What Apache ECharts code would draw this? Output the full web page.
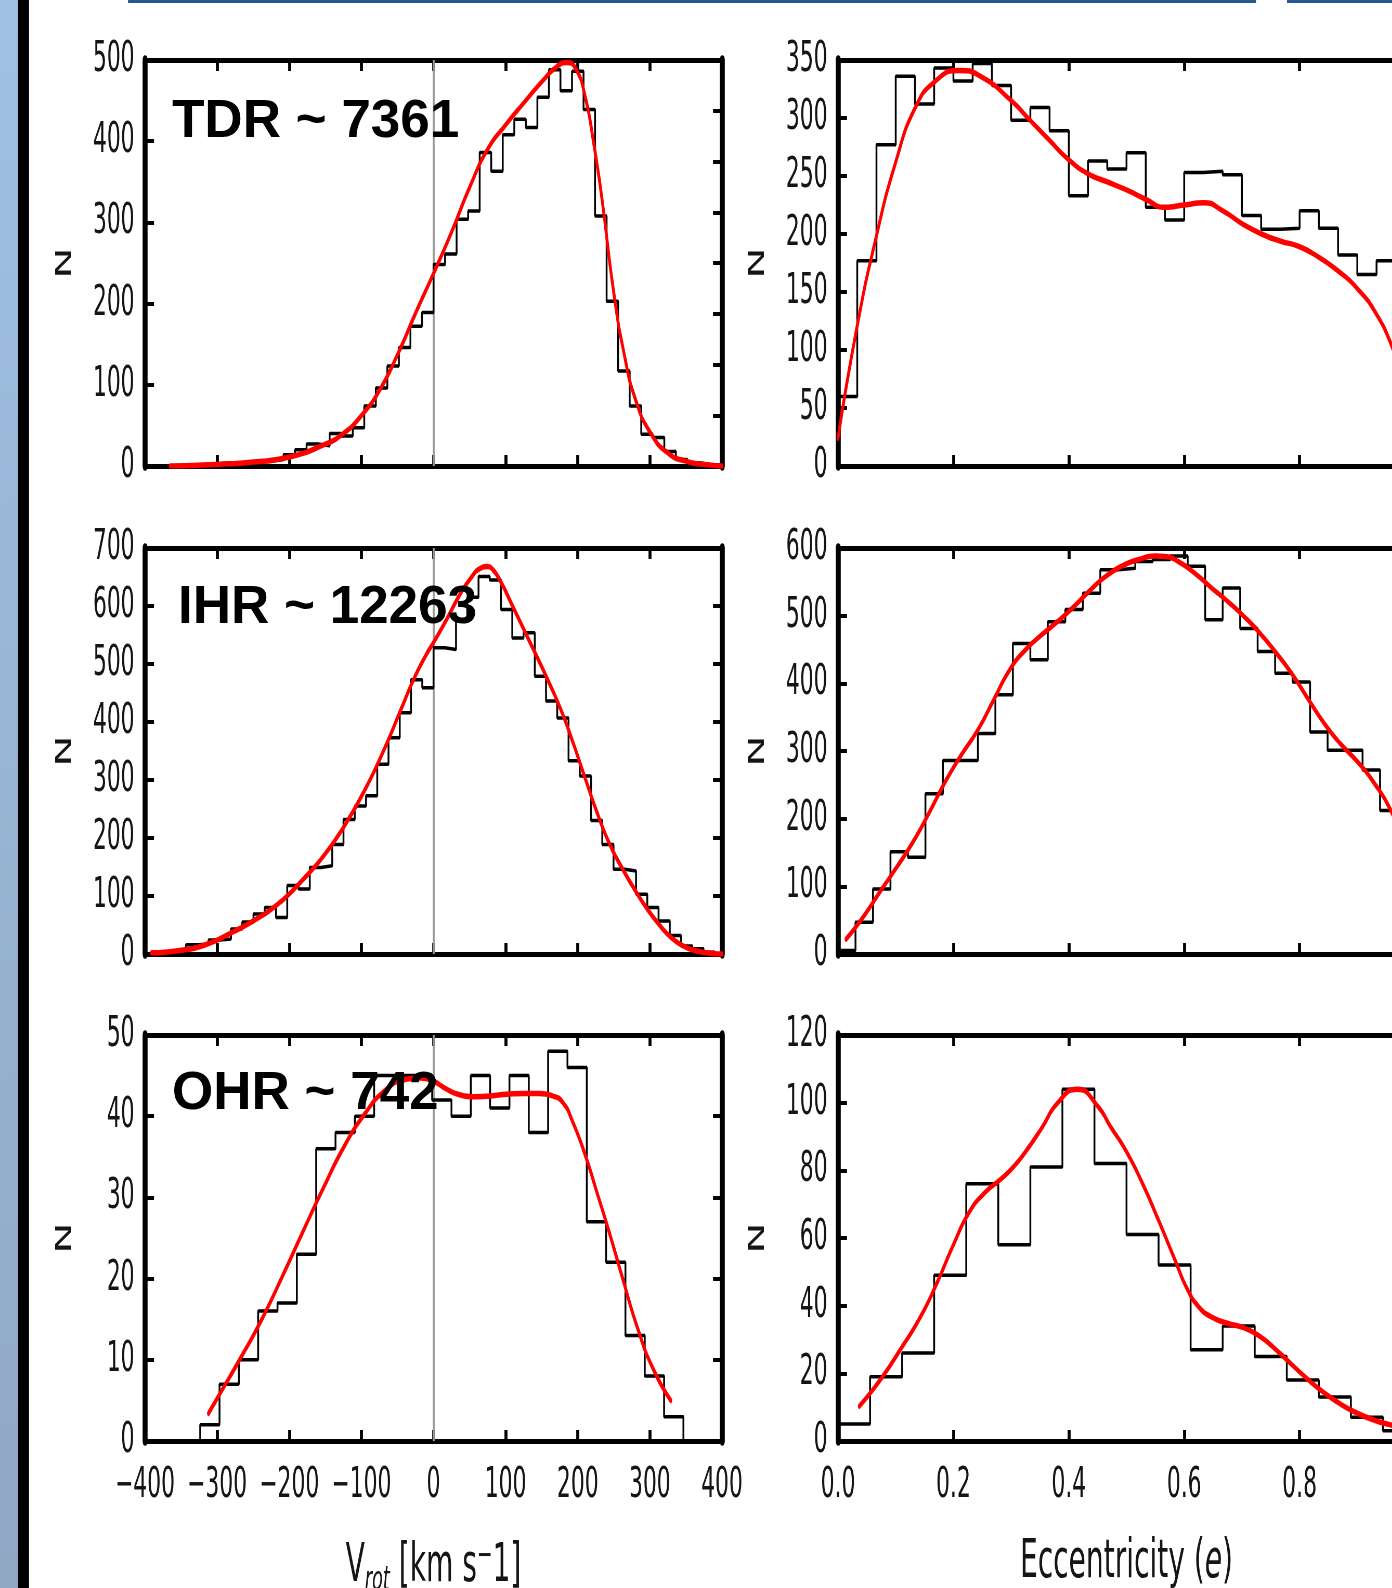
<!DOCTYPE html>
<html><head><meta charset="utf-8">
<script src="https://cdn.jsdelivr.net/npm/echarts@6.0.0/dist/echarts.min.js"></script>
<style>
html,body{margin:0;padding:0;overflow:hidden;background:#fff}
#wrap{position:relative;width:1392px;height:1588px;overflow:hidden;background:#fff}
#chart{position:absolute;left:0;top:0;width:2677px;height:1588px;transform:scaleX(0.52);transform-origin:0 0}
</style></head>
<body><div id="wrap"><div id="chart"></div></div>
<script>
// ---------- data ----------
const vrotAxis = [-400, 400, 100];      // min, max, tick step
const eccAxis = [0, 1, 0.2];
const tdrVrotYAxis = [0, 500, 100];
const tdrEccYAxis = [0, 350, 50];
const ihrVrotYAxis = [0, 700, 100];
const ihrEccYAxis = [0, 600, 100];
const ohrVrotYAxis = [0, 50, 10];
const ohrEccYAxis = [0, 120, 20];

// histogram bins: first edge, bin width, counts
const tdrVrotBins = [-400, 16];
const tdrVrotCounts = [0,0,1,1,2,2,3,3,4,5,6,8,14,20,27,25,40,37,47,74,96,123,146,172,189,
  248,261,304,314,386,363,408,427,417,454,488,462,486,439,308,203,117,74,39,35,18,8,4,2,1];
const tdrEccBins = [0, 1/30];
const tdrEccCounts = [60,177,277,336,312,343,332,347,328,298,309,289,233,263,256,270,223,212,253,254,251,216,204,205,220,205,182,165,177,150];
const ihrVrotBins = [-390, 15.6];
const ihrVrotCounts = [2,4,6,16,17,24,26,43,55,69,80,63,118,112,149,152,189,232,255,273,327,373,416,473,459,
  528,525,575,615,651,645,594,545,554,479,436,407,333,307,230,189,146,143,103,80,57,32,14,9,3];
const ihrEccBins = [0, 1/33];
const ihrEccCounts = [5,47,96,151,143,237,286,286,326,383,459,435,491,509,533,568,570,580,583,588,573,494,541,481,447,415,402,328,301,301,272,212,150];
const ohrVrotBins = [-323.5, 26.8];
const ohrVrotCounts = [2,7,10,16,17,23,36,38,40,45,45,45,42,40,45,41,45,38,48,46,27,22,13,8,3];
const ohrEccBins = [0, 1/18];
const ohrEccCounts = [5,19,26,49,76,58,81,104,82,61,52,27,34,25,18,13,7,3];

// smooth fitted curves [x, y]
const tdrVrotCurve = [[-365,0],[-300,2],[-250,5],[-200,11],[-150,27],[-125,40],[-100,62],[-75,93],[-50,137],[-25,188],[0,237],[25,288],[50,343],[75,390],[100,420],[125,447],[150,473],[170,491],[185,497],[198,488],[210,456],[222,398],[234,326],[250,213],[265,135],[280,82],[300,42],[325,16],[350,6],[375,2],[400,0]];
const tdrEccCurve = [[0,24],[0.033,120],[0.066,197],[0.1,262],[0.133,308],[0.167,331],[0.21,341],[0.25,335],[0.3,315],[0.333,298],[0.366,281],[0.4,264],[0.433,252],[0.466,245],[0.5,238],[0.533,230],[0.566,223],[0.6,225],[0.634,227],[0.667,220],[0.7,209],[0.734,200],[0.766,194],[0.8,189],[0.833,180],[0.867,168],[0.9,153],[0.933,131],[0.961,102],[1.0,50]];
const ihrVrotCurve = [[-391,2],[-352,6],[-318,15],[-278,38],[-238,66],[-210,92],[-182,127],[-153,168],[-125,218],[-96,281],[-68,354],[-45,422],[-28,472],[-11,514],[0,537],[17,574],[34,614],[51,647],[65,665],[74,668],[82,663],[94,640],[108,604],[125,560],[142,516],[159,471],[176,423],[193,366],[210,304],[227,243],[244,190],[261,149],[278,113],[295,80],[312,52],[329,29],[346,14],[363,6],[386,1],[400,0]];
const ihrEccCurve = [[0.014,22],[0.0455,57],[0.0735,93],[0.1015,128],[0.1295,165],[0.1575,208],[0.1855,254],[0.2135,294],[0.2415,330],[0.2695,375],[0.2975,420],[0.3255,450],[0.3535,472],[0.3815,492],[0.4095,514],[0.4375,538],[0.4654,559],[0.4934,574],[0.5214,583],[0.5494,588],[0.5704,587],[0.5914,579],[0.6194,562],[0.6474,541],[0.6754,521],[0.7034,499],[0.7314,474],[0.7594,445],[0.7874,413],[0.8154,376],[0.8434,340],[0.8714,310],[0.8994,285],[0.9274,255],[0.961,207],[1.0,130]];
const ohrVrotCurve = [[-312,3.4],[-295,6],[-267,10.3],[-238,15],[-210,20.2],[-182,25.6],[-153,31.1],[-125,36.1],[-96,40.2],[-68,43.1],[-40,44.5],[-17,44.7],[0,44.3],[17,43.4],[34,42.7],[57,42.4],[79,42.5],[102,42.7],[125,42.8],[147,42.8],[165,42.5],[180,41.6],[193,39.3],[210,35.3],[227,30.5],[244,25.6],[261,20.4],[284,13.6],[306,8.6],[329,5]];
const ohrEccCurve = [[0.037,10.3],[0.073,18],[0.108,27],[0.143,36.7],[0.171,46.5],[0.2,58],[0.227,67.5],[0.255,73.5],[0.283,77.5],[0.304,81],[0.325,85.5],[0.353,92.5],[0.38,99.8],[0.415,104],[0.45,99],[0.472,93],[0.5,85.5],[0.528,76],[0.556,65],[0.584,53.5],[0.605,45],[0.626,39.5],[0.647,36.7],[0.675,34.8],[0.703,33.5],[0.731,30.9],[0.759,27],[0.787,22.5],[0.815,18.1],[0.843,14.2],[0.871,10.9],[0.899,8.3],[0.927,6.3],[0.961,4.6],[1.0,3]];

const panelLabels = ['TDR ~ 7361', 'IHR ~ 12263', 'OHR ~ 742'];
const yAxisName = 'N';

// ---------- layout (real px; canvas is squeezed horizontally by K) ----------
const K = 0.52;
const V = x => x / K;
const rowTop = [60, 548, 1035];
const rowH = 406;
const colLeft = [145, 838];
const colW = 577;
const FONT = '"DejaVu Sans", sans-serif';

const panels = [
  {row:0,col:0,bins:tdrVrotBins,counts:tdrVrotCounts,curve:tdrVrotCurve,y:tdrVrotYAxis,rightStep:62.5},
  {row:0,col:1,bins:tdrEccBins,counts:tdrEccCounts,curve:tdrEccCurve,y:tdrEccYAxis},
  {row:1,col:0,bins:ihrVrotBins,counts:ihrVrotCounts,curve:ihrVrotCurve,y:ihrVrotYAxis,rightStep:100},
  {row:1,col:1,bins:ihrEccBins,counts:ihrEccCounts,curve:ihrEccCurve,y:ihrEccYAxis},
  {row:2,col:0,bins:ohrVrotBins,counts:ohrVrotCounts,curve:ohrVrotCurve,y:ohrVrotYAxis,rightStep:10},
  {row:2,col:1,bins:ohrEccBins,counts:ohrEccCounts,curve:ohrEccCurve,y:ohrEccYAxis}
];

function histPoints(bins, counts) {
  const s = bins[0], w = bins[1], n = counts.length;
  const pts = [[s, 0]];
  counts.forEach((c, i) => pts.push([s + i * w, c]));
  pts.push([s + n * w, counts[n - 1]]);
  pts.push([s + n * w, 0]);
  return pts;
}

const grids = [], xAxes = [], yAxes = [], series = [];
const labelStyle = {fontFamily: FONT, fontSize: 42, color: '#151515'};
const vrotName = '{a|V}{s|rot}{a| [km s}{p|\u2212}{a|1]}';
const eccName = '{a|Eccentricity (}{i|e}{a|)}';
const nameRich = {
  a: {fontFamily: FONT, fontSize: 54, color: '#151515'},
  s: {fontFamily: FONT, fontSize: 34, fontStyle: 'italic', color: '#151515', padding: [28, 0, 0, 0]},
  p: {fontFamily: FONT, fontSize: 36, color: '#151515', padding: [0, 0, 20, 0]},
  i: {fontFamily: FONT, fontSize: 54, fontStyle: 'italic', color: '#151515'}
};

panels.forEach((p, g) => {
  const isV = p.col === 0;
  const xr = isV ? vrotAxis : eccAxis;
  grids.push({left: V(colLeft[p.col]), top: rowTop[p.row], width: V(colW), height: rowH, outerBoundsMode: 'none'});
  const xFmt = isV ? (v => v < 0 ? '\u2212' + Math.abs(v) : String(v)) : (v => v.toFixed(1));
  const xBase = {
    gridIndex: g, type: 'value', min: xr[0], max: xr[1], interval: xr[2],
    splitLine: {show: false},
    axisLine: {show: true, onZero: false, lineStyle: {color: '#000', width: 5}},
    axisTick: {show: true, inside: true, length: 11, lineStyle: {color: '#000', width: 3 / K}}
  };
  xAxes.push(Object.assign({}, xBase, {
    position: 'bottom',
    axisLabel: Object.assign({show: p.row === 2, margin: 24, formatter: xFmt, showMinLabel: true, showMaxLabel: true}, labelStyle),
    name: p.row === 2 ? (isV ? vrotName : eccName) : '',
    nameLocation: 'middle', nameGap: 95,
    nameTextStyle: {rich: nameRich}
  }));
  xAxes.push(Object.assign({}, xBase, {position: 'top', axisLabel: {show: false}}));
  const yBase = {
    gridIndex: g, type: 'value', min: p.y[0], max: p.y[1], interval: p.y[2],
    splitLine: {show: false},
    axisLine: {show: true, onZero: false, lineStyle: {color: '#000', width: 5 / K}},
    axisTick: {show: true, inside: true, length: 9 / K, lineStyle: {color: '#000', width: 4}}
  };
  const yLeftIndex = yAxes.length;
  yAxes.push(Object.assign({}, yBase, {
    position: 'left',
    axisLabel: Object.assign({margin: 20, showMinLabel: true, showMaxLabel: true}, labelStyle),
    name: yAxisName, nameLocation: 'middle', nameGap: 132, nameRotate: 90,
    nameTextStyle: {fontFamily: FONT, fontSize: 42, color: '#151515'}
  }));
  if (isV) {
    yAxes.push(Object.assign({}, yBase, {position: 'right', interval: p.rightStep, axisLabel: {show: false}}));
  }
  const hist = {
    type: 'line', xAxisIndex: 2 * g, yAxisIndex: yLeftIndex, step: 'end',
    data: histPoints(p.bins, p.counts), symbol: 'none', showSymbol: false,
    lineStyle: {color: '#000', width: 3.5}, z: 2, silent: true
  };
  if (isV) {
    hist.markLine = {silent: true, symbol: 'none', label: {show: false},
      lineStyle: {color: '#999', width: 2 / K, type: 'solid'}, data: [{xAxis: 0}], z: 1};
  }
  series.push(hist);
  series.push({
    type: 'line', xAxisIndex: 2 * g, yAxisIndex: yLeftIndex, data: p.curve,
    smooth: 0.55, symbol: 'none', showSymbol: false,
    lineStyle: {color: '#ff0000', width: 5.5, cap: 'round', join: 'round'}, z: 3, silent: true
  });
});

const labelY = [122, 608, 1094];
const labelX = [172, 178, 172];
const graphic = [
  {type: 'rect', shape: {x: 0, y: 0, width: V(18), height: 1588}, z: 50,
   style: {fill: new echarts.graphic.LinearGradient(0, 0, 0, 1, [{offset: 0, color: '#9fc1e3'}, {offset: 1, color: '#91a8c5'}])}},
  {type: 'rect', shape: {x: V(18), y: 0, width: V(11), height: 1588}, z: 50, style: {fill: '#000'}},
  {type: 'rect', shape: {x: V(128), y: 0, width: V(1256 - 128), height: 3}, z: 50, style: {fill: '#265a8c'}},
  {type: 'rect', shape: {x: V(1287), y: 0, width: V(110), height: 3}, z: 50, style: {fill: '#265a8c'}}
];
panelLabels.forEach((t, i) => {
  graphic.push({type: 'text', x: V(labelX[i]), y: labelY[i], scaleX: 1 / K, z: 100,
    style: {text: t, font: 'bold 53px "Liberation Sans", Arial, sans-serif', fill: '#000', align: 'left', verticalAlign: 'middle'}});
});

const chart = echarts.init(document.getElementById('chart'), null, {width: 2677, height: 1588, renderer: 'canvas'});
chart.setOption({
  animation: false,
  backgroundColor: '#fff',
  grid: grids, xAxis: xAxes, yAxis: yAxes, series: series, graphic: graphic
});
</script>
</body></html>
